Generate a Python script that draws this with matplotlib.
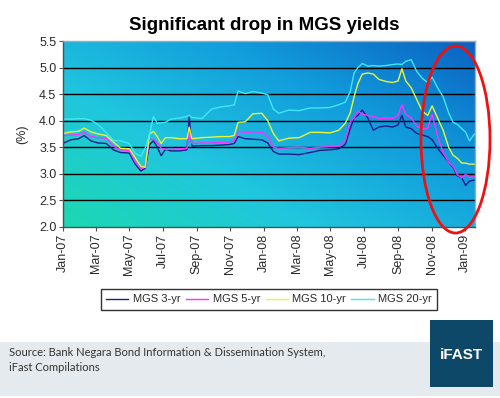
import numpy as np
import pandas as pd
import matplotlib
matplotlib.use("Agg")
import matplotlib.pyplot as plt
import matplotlib.dates as mdates
from matplotlib.colors import LinearSegmentedColormap
from matplotlib.patches import Ellipse, Rectangle

DATES = [
    "2007-01-02", "2007-01-15", "2007-01-29", "2007-02-08", "2007-02-20",
    "2007-03-05", "2007-03-20", "2007-04-02", "2007-04-15", "2007-05-01",
    "2007-05-12", "2007-05-22", "2007-05-30", "2007-06-07", "2007-06-14",
    "2007-06-21", "2007-06-28", "2007-07-06", "2007-07-16", "2007-07-31",
    "2007-08-14", "2007-08-18", "2007-08-23", "2007-09-10", "2007-09-28",
    "2007-10-15", "2007-10-30", "2007-11-08", "2007-11-15", "2007-11-28",
    "2007-12-12", "2007-12-28", "2008-01-08", "2008-01-18", "2008-01-28",
    "2008-02-15", "2008-03-05", "2008-03-25", "2008-04-12", "2008-04-30",
    "2008-05-16", "2008-05-28", "2008-06-06", "2008-06-13", "2008-06-20",
    "2008-06-28", "2008-07-08", "2008-07-18", "2008-07-28", "2008-08-10",
    "2008-08-22", "2008-09-01", "2008-09-08", "2008-09-15", "2008-09-25",
    "2008-10-05", "2008-10-15", "2008-10-25", "2008-11-02", "2008-11-12",
    "2008-11-22", "2008-12-02", "2008-12-10", "2008-12-18", "2008-12-26",
    "2009-01-02", "2009-01-09", "2009-01-18",
]

MGS_3YR = [
    3.58, 3.64, 3.66, 3.72, 3.62, 3.58, 3.57, 3.45, 3.40, 3.39,
    3.18, 3.05, 3.10, 3.55, 3.62, 3.50, 3.34, 3.46, 3.43, 3.43,
    3.45, 4.08, 3.52, 3.53, 3.53, 3.54, 3.55, 3.57, 3.70, 3.66,
    3.65, 3.64, 3.58, 3.42, 3.37, 3.37, 3.36, 3.40, 3.44, 3.45,
    3.47, 3.55, 3.85, 4.05, 4.10, 4.20, 4.05, 3.82, 3.88, 3.90,
    3.88, 3.92, 4.10, 3.88, 3.85, 3.76, 3.73, 3.70, 3.64, 3.48,
    3.35, 3.22, 3.12, 2.96, 2.92, 2.78, 2.86, 2.88,
]
MGS_5YR = [
    3.72, 3.73, 3.74, 3.78, 3.70, 3.68, 3.67, 3.52, 3.45, 3.44,
    3.22, 3.10, 3.12, 3.65, 3.65, 3.58, 3.48, 3.46, 3.46, 3.47,
    3.48, 3.86, 3.57, 3.58, 3.58, 3.59, 3.60, 3.62, 3.80, 3.78,
    3.79, 3.78, 3.70, 3.50, 3.48, 3.49, 3.50, 3.48, 3.50, 3.51,
    3.52, 3.62, 3.98, 4.05, 4.18, 4.12, 4.10, 4.08, 4.04, 4.05,
    4.04, 4.10, 4.30, 4.12, 4.05, 3.90, 3.84, 3.86, 4.12, 3.70,
    3.40, 3.22, 3.14, 2.98, 2.92, 2.99, 2.93, 2.94,
]
MGS_10YR = [
    3.76, 3.79, 3.80, 3.86, 3.79, 3.75, 3.72, 3.60, 3.48, 3.47,
    3.30, 3.14, 3.12, 3.75, 3.80, 3.70, 3.57, 3.68, 3.68, 3.66,
    3.66, 3.88, 3.66, 3.68, 3.69, 3.70, 3.70, 3.72, 3.97, 3.98,
    4.13, 4.14, 4.00, 3.76, 3.62, 3.67, 3.68, 3.78, 3.78, 3.77,
    3.82, 3.95, 4.15, 4.45, 4.70, 4.88, 4.90, 4.88, 4.78, 4.74,
    4.72, 4.75, 4.98, 4.75, 4.62, 4.40, 4.18, 4.10, 4.28, 4.05,
    3.82, 3.50, 3.35, 3.29, 3.20, 3.20, 3.18, 3.18,
]
MGS_20YR = [
    4.03, 4.03, 4.04, 4.04, 4.01, 3.93, 3.78, 3.63, 3.62, 3.57,
    3.38, 3.33, 3.48, 3.75, 4.08, 3.95, 3.96, 3.97, 4.03, 4.05,
    4.08, 4.10, 4.06, 4.04, 4.22, 4.26, 4.28, 4.30, 4.56, 4.51,
    4.55, 4.52, 4.49, 4.22, 4.14, 4.20, 4.19, 4.24, 4.24, 4.25,
    4.30, 4.35, 4.55, 4.90, 5.00, 5.08, 5.03, 5.04, 5.03, 5.04,
    5.06, 5.07, 5.06, 5.12, 5.15, 4.93, 4.80, 4.72, 4.82, 4.62,
    4.45, 4.15, 3.97, 3.93, 3.85, 3.78, 3.62, 3.75,
]

SERIES_NAMES = ["MGS 3-yr", "MGS 5-yr", "MGS 10-yr", "MGS 20-yr"]
SERIES_COLORS = ["#1c1c8a", "#ff30ff", "#e8f53a", "#3fe8f5"]
Y_TICKS = [2.0, 2.5, 3.0, 3.5, 4.0, 4.5, 5.0, 5.5]

TITLE = "Significant drop in MGS yields"
SOURCE = "Source: Bank Negara Bond Information & Dissemination System,\niFast Compilations"

plt.rcParams["font.family"] = ["Liberation Sans", "DejaVu Sans"]

dates = pd.to_datetime(DATES)
series = [MGS_3YR, MGS_5YR, MGS_10YR, MGS_20YR]

fig = plt.figure(figsize=(5.0, 3.98), dpi=100)
ax = fig.add_axes([0.1266, 0.4304, 0.8234, 0.4661])

# diagonal gradient background (green bottom-left -> blue top-right)
grad_cmap = LinearSegmentedColormap.from_list(
    "bg", ["#1cd8b2", "#20c6de", "#129ddc", "#0a62c2"])
gx, gy = np.meshgrid(np.linspace(0, 1, 200), np.linspace(0, 1, 200))
grad = 0.55 * gx + 0.45 * gy
ax.imshow(grad, cmap=grad_cmap, extent=[0, 1, 0, 1], origin="lower",
          transform=ax.transAxes, aspect="auto", zorder=0, interpolation="bilinear")

for y in Y_TICKS[1:-1]:
    ax.axhline(y, color="black", linewidth=1.0, zorder=1)

lines = []
for vals, name, col in zip(series, SERIES_NAMES, SERIES_COLORS):
    ln, = ax.plot(dates, vals, color=col, linewidth=1.0, label=name, zorder=2)
    lines.append(ln)

ax.set_xlim(pd.Timestamp("2007-01-01"), pd.Timestamp("2009-01-19"))
ax.set_ylim(Y_TICKS[0], Y_TICKS[-1])
ax.set_yticks(Y_TICKS)
ax.yaxis.set_major_formatter(matplotlib.ticker.FormatStrFormatter("%.1f"))
ax.xaxis.set_major_locator(mdates.MonthLocator(bymonth=[1, 3, 5, 7, 9, 11]))
ax.xaxis.set_major_formatter(mdates.DateFormatter("%b-%y"))
for lbl in ax.get_xticklabels():
    lbl.set_rotation(90)

ax.tick_params(axis="both", labelsize=9, labelcolor="#2a2a2a", color="#505050",
               length=3, width=0.8, direction="out")
ax.tick_params(axis="x", pad=2)
ax.tick_params(axis="y", pad=2)

for side in ["top", "right"]:
    ax.spines[side].set_color("#a8a8a8")
    ax.spines[side].set_linewidth(1.0)
for side in ["left", "bottom"]:
    ax.spines[side].set_color("#505050")
    ax.spines[side].set_linewidth(1.0)

ax.set_ylabel("(%)", fontsize=9, color="#2a2a2a", labelpad=8)

fig.text(0.528, 0.937, TITLE, ha="center", va="center", fontsize=13.5,
         fontweight="bold", color="black")

leg = fig.legend(handles=lines, loc="center", ncol=4, mode="expand",
                 bbox_to_anchor=(0.19, 0.2186, 0.696, 0.0578),
                 fontsize=8, frameon=True, fancybox=False, handlelength=2.0,
                 handletextpad=0.4, columnspacing=1.0, borderpad=0.5)
leg.get_frame().set_edgecolor("black")
leg.get_frame().set_linewidth(1.0)
for t in leg.get_texts():
    t.set_color("#2a2a2a")

# footer band and logo
fig.add_artist(Rectangle((0, 0.005), 1, 0.1357, transform=fig.transFigure,
                         facecolor="#e5eaee", edgecolor="none", zorder=0))
fig.text(0.018, 0.095, SOURCE, ha="left", va="center", fontsize=8,
         family=["Lato", "DejaVu Sans"], color="#333333", linespacing=1.5)
fig.add_artist(Rectangle((0.86, 0.0276), 0.126, 0.168, transform=fig.transFigure,
                         facecolor="#0d4868", edgecolor="none", zorder=1))
fig.text(0.923, 0.108, "iFAST", ha="center", va="center", fontsize=11,
         fontweight="bold", color="white", zorder=2)

# red highlight ellipse around the recent drop
fig.add_artist(Ellipse((0.911, 0.6495), 0.138, 0.47, transform=fig.transFigure,
                       fill=False, edgecolor="#ee1111", linewidth=2.0, zorder=5))

fig.savefig("out.png", dpi=100)
